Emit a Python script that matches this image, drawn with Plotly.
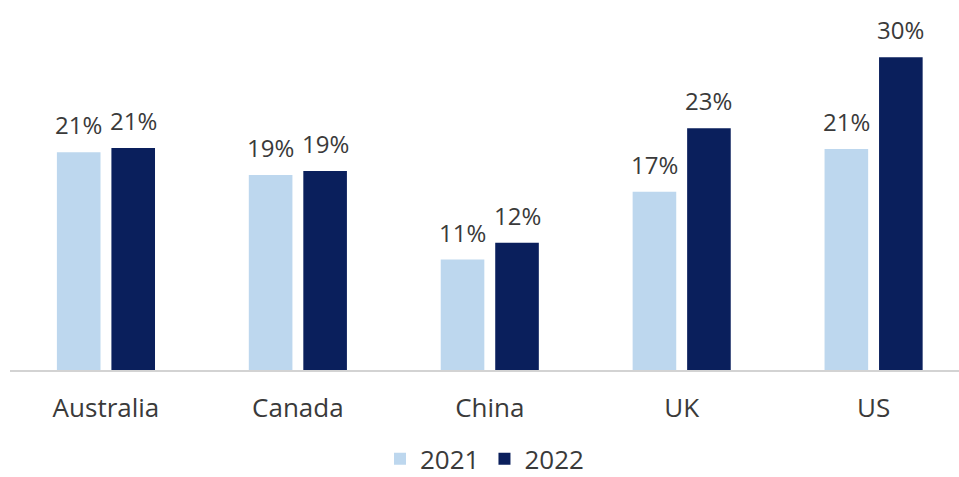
import plotly.graph_objects as go

categories = ["Australia", "Canada", "China", "UK", "US"]
series_names = ["2021", "2022"]
values_2021 = [20.9, 18.7, 10.6, 17.1, 21.2]
values_2022 = [21.3, 19.1, 12.2, 23.2, 30.0]
colors = ["#BDD7EE", "#0A1F5C"]

series_values = [values_2021, values_2022]

TEXT = "#3a3a3a"
BARGAP = 0.432
fig = go.Figure()
for name, vals, col in zip(series_names, series_values, colors):
    fig.add_trace(go.Bar(
        x=categories, y=vals, name=name,
        marker=dict(color=col, line=dict(width=0)),
    ))

# value labels above bars (positions derived from the grouped-bar layout)
slot = (1 - BARGAP) / len(series_values)
annotations = []
for j, vals in enumerate(series_values):
    off = (j - (len(series_values) - 1) / 2) * slot
    for i, v in enumerate(vals):
        annotations.append(dict(
            x=i + off, y=v, xref="x", yref="y",
            text=f"{v:.0f}%", showarrow=False,
            yanchor="bottom", xanchor="center", yshift=9,
            font=dict(family="Open Sans", size=24, color=TEXT),
        ))

fig.update_layout(
    width=959, height=477,
    margin=dict(l=10, r=0, t=0, b=107),
    paper_bgcolor="white", plot_bgcolor="white",
    barmode="group", bargap=BARGAP, bargroupgap=0.2,
    font=dict(family="Open Sans", size=22, color=TEXT),
    showlegend=True,
    legend=dict(
        orientation="h", x=0.5, xanchor="center",
        yref="container", y=0.038, yanchor="middle",
        itemwidth=30, tracegroupgap=0,
        font=dict(family="Open Sans", size=26, color=TEXT),
    ),
    annotations=annotations,
)
fig.update_xaxes(
    range=[-0.5, 4.445],
    showline=True, linecolor="#d3d3d3", linewidth=2,
    ticks="", showgrid=False, ticklabelstandoff=14,
    tickfont=dict(family="Open Sans", size=26, color=TEXT),
)
fig.update_yaxes(
    range=[0, 35.5], visible=False, showgrid=False, zeroline=False,
)

fig.write_html(
    "out.html",
    config={"displayModeBar": False},
    post_script="document.body.style.margin='0';document.body.style.overflow='hidden';",
)
